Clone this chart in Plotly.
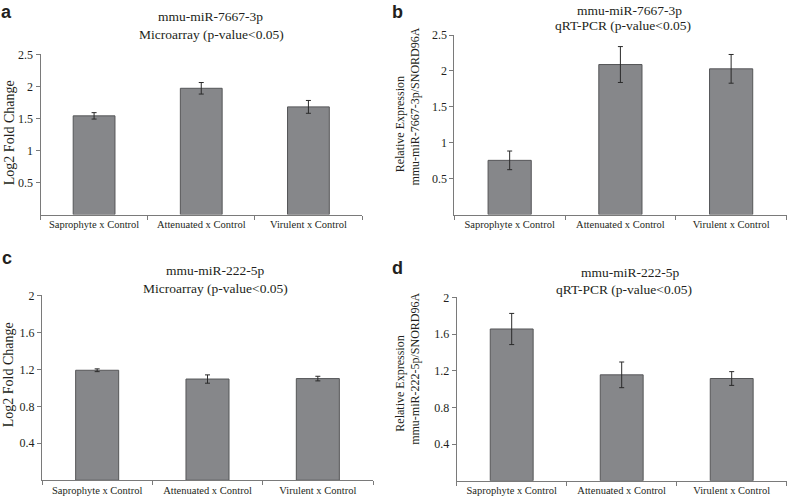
import plotly.graph_objects as go
from plotly.subplots import make_subplots

W, H = 787, 498

categories = ["Saprophyte x Control", "Attenuated x Control", "Virulent x Control"]

# Panel a: mmu-miR-7667-3p microarray
a_values = [1.54, 1.97, 1.68]
a_errors = [0.05, 0.09, 0.10]
# Panel b: mmu-miR-7667-3p qRT-PCR
b_values = [0.755, 2.09, 2.03]
b_errors = [0.13, 0.25, 0.20]
# Panel c: mmu-miR-222-5p microarray
c_values = [1.19, 1.095, 1.10]
c_errors = [0.015, 0.045, 0.025]
# Panel d: mmu-miR-222-5p qRT-PCR
d_values = [1.655, 1.155, 1.115]
d_errors = [0.17, 0.14, 0.075]

a_ticks = [0.5, 1, 1.5, 2, 2.5]
c_ticks = [0.4, 0.8, 1.2, 1.6, 2]

SERIF = "Liberation Serif, Times New Roman, serif"
TXT = "#231f20"
AXC = "#7a7a7a"
BAR = "#86878a"
BAR_LINE = "#555658"

def px(x):
    return x / W

def py(y):
    return 1 - y / H

fig = make_subplots(rows=2, cols=2)

panels = [
    (1, 1, a_values, a_errors, 2.5, a_ticks),
    (1, 2, b_values, b_errors, 2.5, a_ticks),
    (2, 1, c_values, c_errors, 2.0, c_ticks),
    (2, 2, d_values, d_errors, 2.0, c_ticks),
]
for r, c, vals, errs, ymax, ticks in panels:
    fig.add_trace(
        go.Bar(
            x=categories, y=vals,
            marker=dict(color=BAR, line=dict(color=BAR_LINE, width=1)),
            error_y=dict(type="data", array=errs, visible=True,
                         color="#2a2a2a", thickness=1, width=2.5),
            showlegend=False,
        ),
        row=r, col=c,
    )
    fig.update_yaxes(range=[0, ymax], tickvals=ticks, showgrid=False, zeroline=False,
                     showline=True, linecolor=AXC, linewidth=1,
                     ticks="outside", ticklen=4, tickcolor=AXC,
                     tickfont=dict(family=SERIF, size=12, color=TXT),
                     row=r, col=c)
    fig.update_xaxes(type="category", tickson="boundaries", showgrid=False,
                     showline=True, linecolor=AXC, linewidth=1,
                     ticks="outside", ticklen=4, tickcolor=AXC,
                     tickfont=dict(family=SERIF, size=10.5, color=TXT),
                     row=r, col=c)

# axis domains (pixel-measured, with small empirical corrections)
fig.update_layout(
    xaxis=dict(domain=[px(40.5), px(362)]),
    yaxis=dict(domain=[py(210.5), py(48)]),
    xaxis2=dict(domain=[px(454.3), px(786.5)]),
    yaxis2=dict(domain=[py(210.5), py(28.5)]),
    xaxis3=dict(domain=[px(42), px(373)]),
    yaxis3=dict(domain=[py(480), py(292.5)]),
    xaxis4=dict(domain=[px(456.7), px(786.7)]),
    yaxis4=dict(domain=[py(480.5), py(294.5)]),
)

ann = []

def text(x, y, t, size, angle=0, family=SERIF):
    ann.append(dict(x=px(x), y=py(y), xref="paper", yref="paper", text=t,
                    showarrow=False, textangle=angle, xanchor="center", yanchor="middle",
                    font=dict(family=family, size=size, color=TXT)))

# titles
text(210, 10, "mmu-miR-7667-3p", 13.5)
text(212, 27.5, "Microarray (p-value&lt;0.05)", 13.5)
text(629, 3.5, "mmu-miR-7667-3p", 13.5)
text(623, 19, "qRT-PCR (p-value&lt;0.05)", 13.5)
text(215, 267.5, "mmu-miR-222-5p", 13.5)
text(215, 286, "Microarray (p-value&lt;0.05)", 13.5)
text(630, 269.5, "mmu-miR-222-5p", 13.5)
text(623.5, 286.5, "qRT-PCR (p-value&lt;0.05)", 13.5)

# y-axis titles
text(9, 128, "Log2 Fold Change", 14, angle=-90)
text(8.5, 373, "Log2 Fold Change", 14, angle=-90)
text(400, 119, "Relative Expression", 12, angle=-90)
text(415, 101, "mmu-miR-7667-3p/SNORD96A", 12, angle=-90)
text(400, 382, "Relative Expression", 12, angle=-90)
text(415, 367, "mmu-miR-222-5p/SNORD96A", 12, angle=-90)

# panel letters
SANS = "Liberation Sans, Arial, sans-serif"
text(6, 5, "<b>a</b>", 18, family=SANS)
text(398, 5, "<b>b</b>", 18, family=SANS)
text(7, 255, "<b>c</b>", 18, family=SANS)
text(398, 265, "<b>d</b>", 18, family=SANS)

fig.update_layout(
    annotations=ann,
    width=W, height=H, autosize=False,
    margin=dict(l=0, r=0, t=0, b=0),
    paper_bgcolor="white", plot_bgcolor="white",
    bargap=0.61,
    font=dict(family=SERIF, color=TXT),
)

fig.write_html("out.html", config={"displayModeBar": False},
               post_script="document.body.style.margin='0';document.body.style.overflow='hidden';")
